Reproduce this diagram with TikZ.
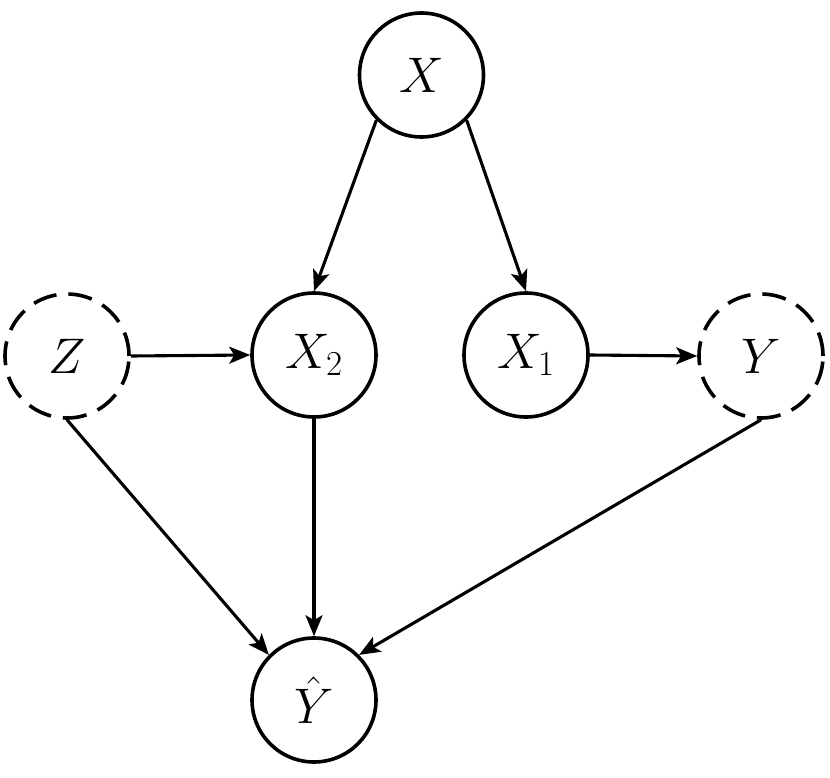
\RequirePackage{fix-cm}
\documentclass[tikz,border=0pt]{standalone}
\usetikzlibrary{arrows.meta}
\begin{document}
\begin{tikzpicture}[x=1pt,y=-1pt,
  var/.style={circle,draw,line width=3.6pt,minimum size=124pt,inner sep=0pt,font=\fontsize{50}{60}\selectfont},
  latent/.style={var,dash pattern=on 24pt off 12pt},
  edge/.style={line width=3.1pt,-{Stealth[length=21pt,width=17pt,inset=5pt]}}]
\useasboundingbox (0,0) rectangle (830,778);
\node[var] (X) at (421.5,75) {$X$};
\node[latent] (Z) at (67,356) {$Z$};
\node[var] (X2) at (314,355) {$X_2$};
\node[var] (X1) at (526,355) {$X_1$};
\node[latent] (Y) at (761,356) {$Y$};
\node[var] (Yh) at (314,700) {$\hat{Y}$};
\draw[edge] (X.south west) -- (X2.north);
\draw[edge] (X.south east) -- (X1.north);
\draw[edge] (Z.east) -- (X2.west);
\draw[edge] (X1.east) -- (Y.west);
\draw[edge] (Z.south) -- (Yh.north west);
\draw[edge] (X2.south) -- (Yh.north);
\draw[edge] (Y.south) -- (Yh.north east);
\end{tikzpicture}
\end{document}
